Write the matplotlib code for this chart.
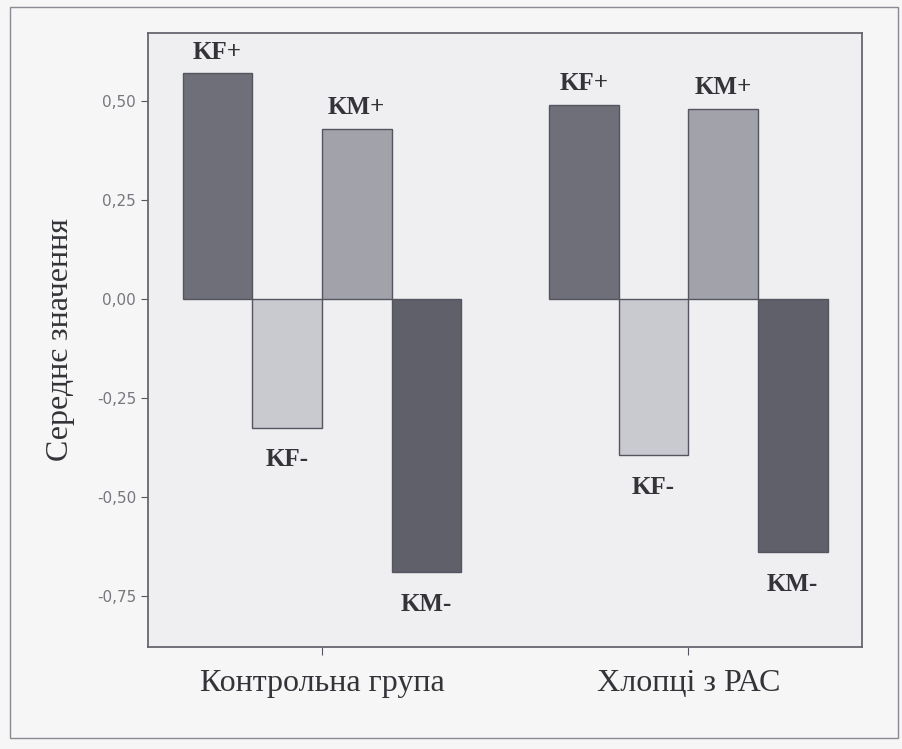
import numpy as np
import matplotlib
matplotlib.use("Agg")
import matplotlib.pyplot as plt
from matplotlib.patches import Rectangle

# data
groups = ["Контрольна група", "Хлопці з РАС"]
series = ["KF+", "KF-", "KM+", "KM-"]
kf_plus = [0.57, 0.49]
kf_minus = [-0.325, -0.395]
km_plus = [0.43, 0.48]
km_minus = [-0.69, -0.64]
yticks = [0.50, 0.25, 0.00, -0.25, -0.50, -0.75]

colors = ["#6f6f7a", "#c9c9d0", "#a2a2ab", "#60606b"]

fig = plt.figure(figsize=(9.02, 7.49), dpi=100, facecolor="#f6f6f7")
ax = fig.add_axes([0.164, 0.136, 0.792, 0.820])
ax.set_facecolor("#efeff2")

x = np.arange(len(groups))
w = 0.19
vals = [kf_plus, kf_minus, km_plus, km_minus]
for i, (name, v) in enumerate(zip(series, vals)):
    pos = x + (i - 1.5) * w
    ax.bar(pos, v, w, color=colors[i], edgecolor="#55555f", linewidth=1.0)
    for px, py in zip(pos, v):
        if py > 0:
            ax.annotate(name, (px, py), xytext=(0, 7), textcoords="offset points",
                        ha="center", va="bottom", family="Liberation Serif",
                        fontweight="bold", fontsize=18, color="#333338")
        else:
            ax.annotate(name, (px, py), xytext=(0, -15), textcoords="offset points",
                        ha="center", va="top", family="Liberation Serif",
                        fontweight="bold", fontsize=18, color="#333338")

ax.set_xlim(-0.475, 1.475)
ax.set_ylim(-0.88, 0.672)
ax.set_yticks(yticks)
ax.set_yticklabels([("%.2f" % t).replace(".", ",") for t in yticks])
ax.set_xticks(x)
ax.set_xticklabels(groups, family="Liberation Serif", fontsize=23, color="#333338")
ax.tick_params(axis="y", labelsize=11, labelcolor="#77777f", length=5, color="#55555f")
ax.tick_params(axis="x", length=6, pad=10, color="#55555f")
ax.set_ylabel("Середнє значення", family="Liberation Serif", fontsize=23,
              color="#333338", labelpad=16)
for s in ax.spines.values():
    s.set_color("#66666f")
    s.set_linewidth(1.3)

# thin border of the scanned page
fig.patches.append(Rectangle((0.011, 0.015), 0.985, 0.975, transform=fig.transFigure,
                             fill=False, edgecolor="#8a8a92", linewidth=1.0))

fig.savefig("out.png", dpi=100, facecolor=fig.get_facecolor())
